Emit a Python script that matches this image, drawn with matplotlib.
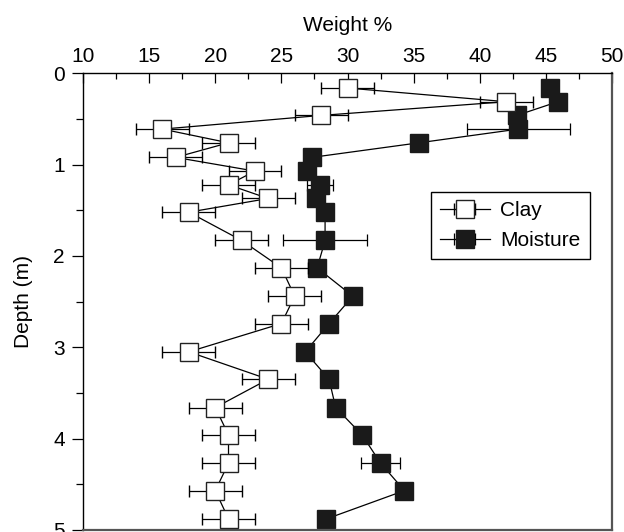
import matplotlib
matplotlib.use("Agg")
import matplotlib.pyplot as plt
from matplotlib.ticker import MultipleLocator
import numpy as np

plt.rcParams['font.family'] = ['Liberation Sans', 'DejaVu Sans']

depth = [0.16, 0.31, 0.46, 0.61, 0.76, 0.92, 1.07, 1.22, 1.37, 1.52,
         1.83, 2.13, 2.44, 2.74, 3.05, 3.35, 3.66, 3.96, 4.27, 4.57, 4.88]
clay = [30.0, 42.0, 28.0, 16.0, 21.0, 17.0, 23.0, 21.0, 24.0, 18.0,
        22.0, 25.0, 26.0, 25.0, 18.0, 24.0, 20.0, 21.0, 21.0, 20.0, 21.0]
clay_err = [2.0] * 21
moisture = [45.3, 45.9, 42.8, 42.9, 35.4, 27.3, 26.9, 27.9, 27.6, 28.3,
            28.3, 27.7, 30.4, 28.6, 26.8, 28.6, 29.1, 31.1, 32.5, 34.3, 28.4]
moist_err = [0, 0, 0, 3.9, 0, 0, 0, 1.0, 0, 0,
             3.2, 0, 0, 0, 0, 0, 0, 0, 1.5, 0, 0]

fig = plt.figure(figsize=(6.24, 5.32), dpi=100)
ax = fig.add_axes([0.133, 0.004, 0.848, 0.858])

ax.errorbar(moisture, depth, xerr=moist_err, fmt='-s', color='black',
            mfc='#1a1a1a', mec='#1a1a1a', ms=13.5, lw=0.9, elinewidth=0.9,
            capsize=4, capthick=0.9, label='Moisture', zorder=2)
ax.errorbar(clay, depth, xerr=clay_err, fmt='-s', color='black',
            mfc='white', mec='#222222', mew=1.0, ms=13, lw=0.9, elinewidth=0.9,
            capsize=4, capthick=0.9, label='Clay', zorder=3)

ax.set_xlim(10, 50)
ax.set_ylim(5, 0)
ax.xaxis.set_major_locator(MultipleLocator(5))
ax.xaxis.set_minor_locator(MultipleLocator(2.5))
ax.yaxis.set_major_locator(MultipleLocator(1))
ax.yaxis.set_minor_locator(MultipleLocator(0.5))

ax.xaxis.tick_top()
ax.xaxis.set_label_position('top')
ax.tick_params(axis='x', which='both', direction='in', top=True, bottom=False,
               labelsize=15, pad=5)
ax.tick_params(axis='x', which='major', length=7, width=0.9)
ax.tick_params(axis='x', which='minor', length=4, width=0.9)
ax.tick_params(axis='y', which='both', direction='out', left=True, right=False,
               labelsize=15, pad=5)
ax.tick_params(axis='y', which='major', length=8, width=0.9)
ax.tick_params(axis='y', which='minor', length=5, width=0.9)

for s in ['top', 'left']:
    ax.spines[s].set_linewidth(1.0)
for s in ['right', 'bottom']:
    ax.spines[s].set_linewidth(1.6)
    ax.spines[s].set_color('#555555')

ax.set_xlabel('Weight %', fontsize=15, labelpad=12)
ax.set_ylabel('Depth (m)', fontsize=15)
ax.yaxis.set_label_coords(-0.095, 0.5)

handles, labels = ax.get_legend_handles_labels()
order = [labels.index('Clay'), labels.index('Moisture')]
leg = ax.legend([handles[i] for i in order], [labels[i] for i in order],
                loc='upper right', bbox_to_anchor=(0.958, 0.74), fontsize=15,
                fancybox=False, framealpha=1, edgecolor='black',
                handlelength=2.4, borderpad=0.45, labelspacing=0.5,
                handletextpad=0.5, borderaxespad=0)
leg.get_frame().set_linewidth(1.0)

fig.savefig('out.png', dpi=100)
